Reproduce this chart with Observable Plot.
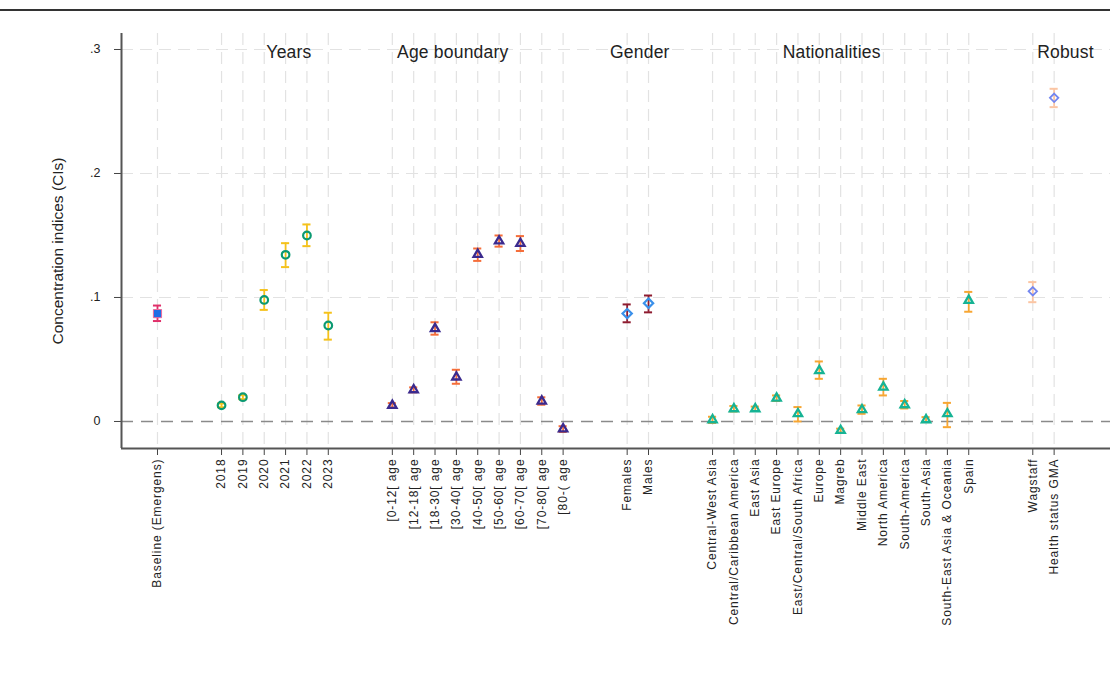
<!DOCTYPE html>
<html>
<head>
<meta charset="utf-8">
<script src="https://cdn.jsdelivr.net/npm/d3@7"></script>
<script src="https://cdn.jsdelivr.net/npm/@observablehq/plot@0.6"></script>
<style>
  html, body { margin: 0; padding: 0; background: #fff; }
  #wrap { position: relative; width: 1110px; height: 695px; overflow: hidden; }
  #topline { position: absolute; left: 0; top: 9px; width: 1110px; border-top: 2px solid #333; }
  g[aria-label="x-axis tick label"] text { letter-spacing: 0.9px; }
  g.hdr text { letter-spacing: 0.2px; }
</style>
</head>
<body>
<div id="wrap"><div id="topline"></div><div id="chart"></div></div>
<script>
// ---------------- data ----------------
const baselineCats = ["Baseline (Emergens)"];
const baselineCI = [0.087];
const baselineLo = [0.081];
const baselineHi = [0.0935];

const yearsCats = ["2018", "2019", "2020", "2021", "2022", "2023"];
const yearsCI = [0.013, 0.0196, 0.098, 0.1344, 0.150, 0.0774];
const yearsLo = [0.0115, 0.018, 0.090, 0.1245, 0.1414, 0.066];
const yearsHi = [0.0145, 0.0212, 0.106, 0.1438, 0.1589, 0.0877];

const ageCats = ["[0-12[ age", "[12-18[ age", "[18-30[ age", "[30-40[ age", "[40-50[ age", "[50-60[ age", "[60-70[ age", "[70-80[ age", "[80-( age"];
const ageCI = [0.0129, 0.0255, 0.0748, 0.0358, 0.1347, 0.1455, 0.1435, 0.0164, -0.006];
const ageLo = [0.0112, 0.0235, 0.070, 0.0304, 0.1295, 0.141, 0.1375, 0.0135, -0.0085];
const ageHi = [0.0148, 0.0275, 0.080, 0.0417, 0.1395, 0.150, 0.1495, 0.0195, -0.0038];

const genderCats = ["Females", "Males"];
const genderCI = [0.087, 0.0954];
const genderLo = [0.080, 0.088];
const genderHi = [0.0944, 0.1016];

const natCats = ["Central-West Asia", "Central/Caribbean America", "East Asia", "East Europe", "East/Central/South Africa", "Europe", "Magreb", "Middle East", "North America", "South-America", "South-Asia", "South-East Asia & Oceania", "Spain"];
const natCI = [0.0013, 0.0102, 0.0102, 0.0188, 0.0062, 0.041, -0.0073, 0.0094, 0.0277, 0.0134, 0.0013, 0.0062, 0.0976];
const natLo = [-0.0012, 0.008, 0.0085, 0.0165, 0.0, 0.0344, -0.009, 0.0062, 0.021, 0.0105, -0.0005, -0.0046, 0.0885];
const natHi = [0.0038, 0.0125, 0.012, 0.021, 0.0116, 0.0484, -0.0058, 0.0129, 0.0344, 0.0165, 0.0035, 0.015, 0.1045];

const robustCats = ["Wagstaff", "Health status GMA"];
const robustCI = [0.105, 0.261];
const robustLo = [0.0962, 0.2535];
const robustHi = [0.1124, 0.2683];

const groupNames = ["", "Years", "Age boundary", "Gender", "Nationalities", "Robust"];
const yTicks = [0, 0.1, 0.2, 0.3];
const yTitle = "Concentration indices (CIs)";

// ---------------- build table ----------------
const groups = [
  {key: "base", name: groupNames[0], cats: baselineCats, ci: baselineCI, lo: baselineLo, hi: baselineHi},
  {key: "years", name: groupNames[1], cats: yearsCats, ci: yearsCI, lo: yearsLo, hi: yearsHi},
  {key: "age", name: groupNames[2], cats: ageCats, ci: ageCI, lo: ageLo, hi: ageHi},
  {key: "gender", name: groupNames[3], cats: genderCats, ci: genderCI, lo: genderLo, hi: genderHi},
  {key: "nat", name: groupNames[4], cats: natCats, ci: natCI, lo: natLo, hi: natHi},
  {key: "robust", name: groupNames[5], cats: robustCats, ci: robustCI, lo: robustLo, hi: robustHi}
];

// styles (not data)
const styles = {
  base:   {symbol: "square",   r: 4.6, fill: "#1f6fe5", stroke: "#ec6a9c", bar: "#e0306a", sw: 1},
  years:  {symbol: "circle",   r: 3.8, fill: "none",    stroke: "#0b9a72", bar: "#f5c21b", sw: 2.2},
  age:    {symbol: "triangle", r: 3.1, fill: "none",    stroke: "#3b2a8e", bar: "#f56e3a", sw: 2.3},
  gender: {symbol: "diamond2", r: 4.2, fill: "none",    stroke: "#3a90ea", bar: "#8e1c30", sw: 2.2},
  nat:    {symbol: "triangle", r: 3.1, fill: "none",    stroke: "#16b394", bar: "#f7a632", sw: 2.3},
  robust: {symbol: "diamond2", r: 3.8, fill: "none",    stroke: "#7386f0", bar: "#fbc5a3", sw: 1.8}
};
const headerDx = {years: 14, age: -25, gender: 2, nat: -9, robust: 22};

const GAP = 2;
const rows = [];
const headers = [];
let slot = 0;
groups.forEach((g) => {
  const start = slot;
  g.cats.forEach((c, i) => {
    rows.push({group: g.key, cat: c, x: slot, ci: g.ci[i], lo: g.lo[i], hi: g.hi[i]});
    slot++;
  });
  if (g.name) headers.push({group: g.key, name: g.name, x: (start + slot - 1) / 2});
  slot += GAP;
});
const labelBySlot = new Map(rows.map(r => [r.x, r.cat]));
const slots = rows.map(r => r.x);

const xMin = -1.686, xMax = 44.64;
const yMin = -0.0218, yMax = 0.3129;
const capHalf = 0.19;

const fmtY = d => d === 0 ? "0" : String(d).replace(/^0\./, ".");

const marks = [
  Plot.gridX(slots, {stroke: "#e2e2e2", strokeOpacity: 1, strokeWidth: 1.2, strokeDasharray: "12,7"}),
  Plot.gridY([0.1, 0.2, 0.3], {stroke: "#e2e2e2", strokeOpacity: 1, strokeWidth: 1.2, strokeDasharray: "12,7"}),
  Plot.ruleY([0], {stroke: "#8a8a8a", strokeWidth: 1.6, strokeDasharray: "12,8"}),
  Plot.axisY(yTicks, {tickFormat: fmtY, tickSize: 7, tickPadding: 14, label: null, fontSize: 12.5, stroke: "#444"}),
  Plot.axisX(slots, {tickFormat: s => labelBySlot.get(s), tickRotate: -90, tickSize: 7, tickPadding: 3, label: null, fontSize: 12, stroke: "#444"}),
  Plot.ruleX([xMin], {stroke: "#555", strokeWidth: 2}),
  Plot.ruleY([yMin], {stroke: "#555", strokeWidth: 2})
];

for (const g of groups) {
  const st = styles[g.key];
  const data = rows.filter(r => r.group === g.key);
  marks.push(
    Plot.ruleX(data, {x: "x", y1: "lo", y2: "hi", stroke: st.bar, strokeWidth: 1.8}),
    Plot.ruleY(data, {y: "lo", x1: d => d.x - capHalf, x2: d => d.x + capHalf, stroke: st.bar, strokeWidth: 2}),
    Plot.ruleY(data, {y: "hi", x1: d => d.x - capHalf, x2: d => d.x + capHalf, stroke: st.bar, strokeWidth: 2}),
    Plot.dot(data, {x: "x", y: "ci", symbol: st.symbol, r: st.r, fill: st.fill, stroke: st.stroke, strokeWidth: st.sw})
  );
}

for (const h of headers) {
  marks.push(Plot.text([h], {x: "x", y: 0.2976, text: "name", dx: headerDx[h.group], fontSize: 17.5, fill: "#222", className: "hdr"}));
}

marks.push(Plot.text([yTitle], {frameAnchor: "left", textAnchor: "middle", dx: -63, dy: 10, rotate: -90, fontSize: 15.5, fill: "#222"}));

const chart = Plot.plot({
  width: 1110,
  height: 695,
  marginLeft: 121,
  marginRight: 0,
  marginTop: 33,
  marginBottom: 247,
  style: {fontFamily: "'Liberation Sans', Arial, Helvetica, sans-serif", fontSize: "12px", color: "#222", background: "transparent"},
  x: {type: "linear", domain: [xMin, xMax]},
  y: {domain: [yMin, yMax]},
  marks
});
document.getElementById("chart").appendChild(chart);
</script>
</body>
</html>
